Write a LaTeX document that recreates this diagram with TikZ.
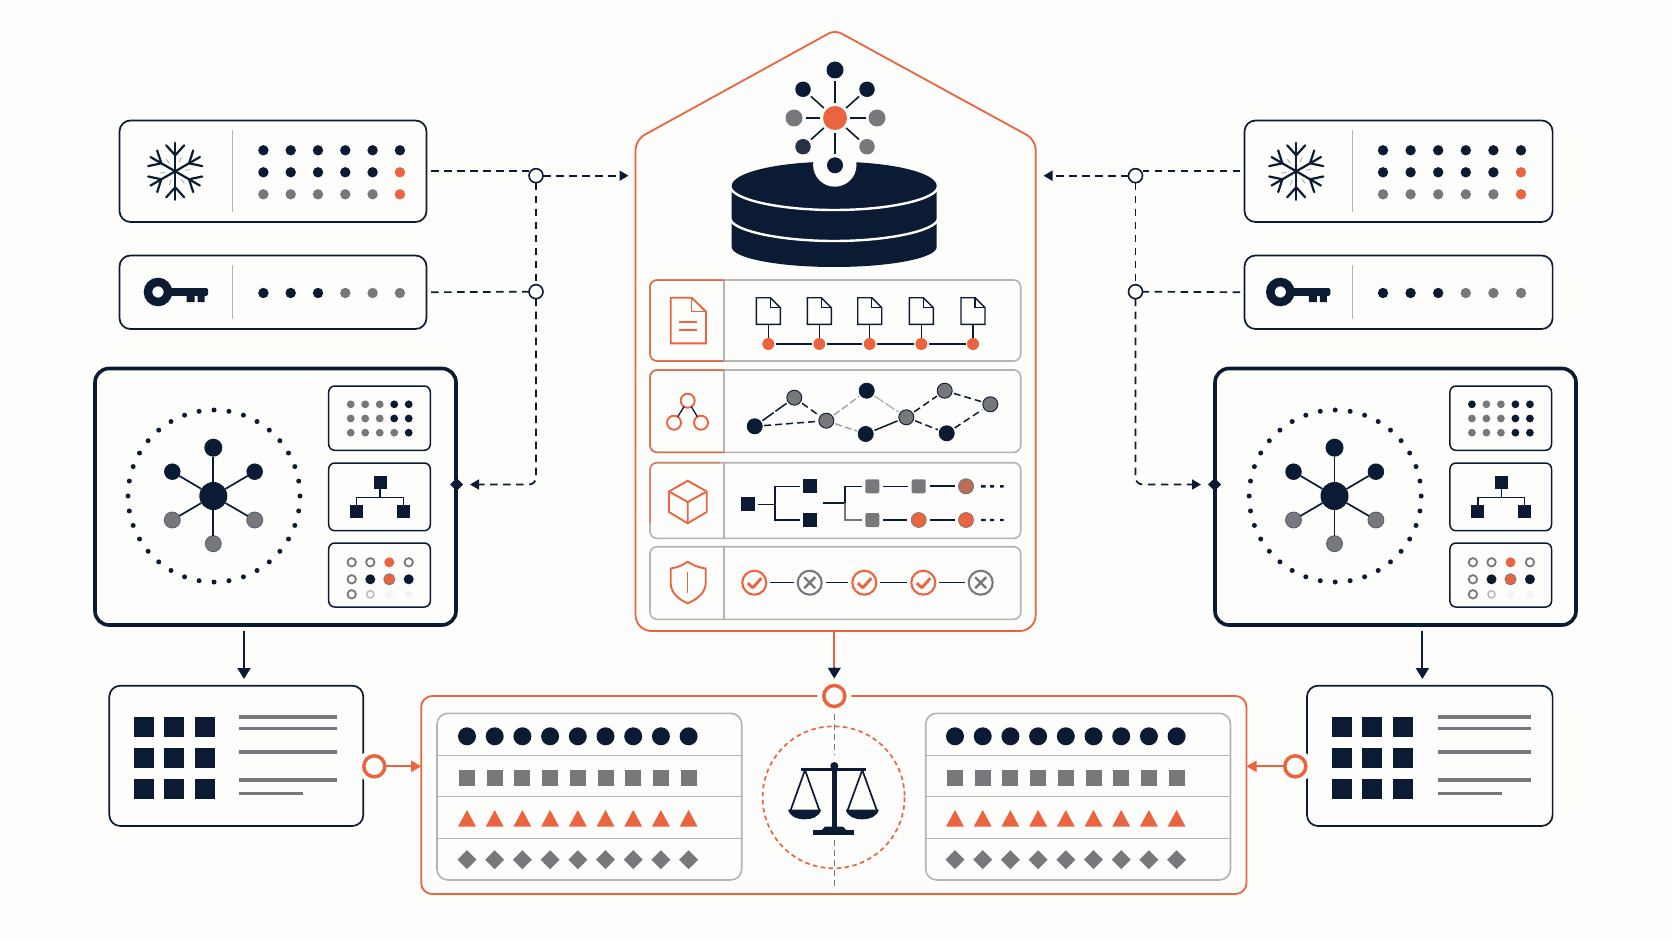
\documentclass[tikz,border=0pt]{standalone}
\usetikzlibrary{arrows.meta,calc,shapes.geometric}
\definecolor{ink}{HTML}{0B1B33}
\definecolor{slate}{HTML}{76787C}
\definecolor{coral}{HTML}{EA653F}
\definecolor{rule}{HTML}{B4B4B2}
\definecolor{paper}{HTML}{FDFDFB}
\tikzset{
  cardbox/.style={draw=ink,line width=1.7,fill=paper,rounded corners=11,inner sep=0,outer sep=0},
  heavybox/.style={draw=ink,line width=3.6,fill=paper,rounded corners=14,inner sep=0,outer sep=0},
  minibox/.style={draw=ink,line width=1.5,fill=paper,rounded corners=6,inner sep=0,outer sep=0},
  rowbox/.style={draw=rule,line width=1.6,fill=paper,rounded corners=7,inner sep=0,outer sep=0},
  gridbox/.style={draw=rule,line width=1.6,fill=paper,rounded corners=11,inner sep=0,outer sep=0},
  redbox/.style={draw=coral,line width=1.8,fill=paper,rounded corners=11,inner sep=0,outer sep=0},
  disc/.style={circle,inner sep=0,outer sep=0,minimum size=#1},
  block/.style={rectangle,inner sep=0,outer sep=0,minimum size=#1},
  hollow/.style={circle,draw=ink,line width=1.6,fill=paper,inner sep=0,outer sep=0,minimum size=14},
  redring/.style={circle,draw=coral,line width=3.5,fill=paper,inner sep=0,outer sep=0,minimum size=21},
  knot/.style={diamond,fill=ink,inner sep=0,outer sep=0,minimum size=13},
  wire/.style={draw=ink,line width=1.7,dash pattern=on 7.5pt off 5.5pt},
  inkhead/.style={-{Triangle[length=9pt,width=10pt]}},
  grule/.style={draw=rule,line width=1.5},
  gsolid/.style={draw=ink,line width=1.5},
  gdash/.style={draw=ink,line width=1.5,dash pattern=on 7pt off 4pt},
  gfaint/.style={draw=slate!70,line width=1.4,dash pattern=on 7pt off 3pt},
  icon/.style={draw=coral,line width=1.9,line join=miter},
}
% rectangle node given by two corners: style, name, x1, y1, x2, y2
\newcommand\cornernode[6]{%
  \pgfmathsetmacro\ccx{(#3+#5)/2}\pgfmathsetmacro\ccy{(#4+#6)/2}%
  \node[#1,minimum width={#5-#3},minimum height={#6-#4}] (#2) at (\ccx,\ccy) {};}
% six-armed crystal
\newcommand\crystal[2]{%
  \begin{scope}[shift={(#1,#2)}]
    \foreach \a in {30,90,150,210,270,330}{
      \begin{scope}[rotate=\a]
        \draw[ink,line width=2.2,line cap=round] (0,0) -- (28.5,0);
        \draw[ink,line width=2.2,line cap=round] (26,-9) -- (16,0) -- (26,9);
        \draw[slate!60,line width=.9] (9,4) -- (14,6);
      \end{scope}}
  \end{scope}}
% key with ring at its left end
\newcommand\keyglyph[2]{%
  \begin{scope}[shift={(#1,#2)}]
    \draw[ink,line width=8.5] (0,0) circle[radius=10];
    \fill[ink,rounded corners=1.5] (10,-4) rectangle (50,3.8);
    \fill[ink] (28.5,2) rectangle (36.5,10) (39.6,2) rectangle (46.5,10);
  \end{scope}}
% dots of a status card: x of first dot, spacing, y, radius, colours
\newcommand\dotrow[5]{%
  \foreach \c [count=\i from 0] in {#5}{
    \fill[\c] ({#1+#2*\i},#3) circle[radius=#4];}}
% hub module: prefix, frame offset, content offset, colours of the dot grid
\newcommand\hubmodule[4]{%
  \begin{scope}[shift={(#2,0)}]
    \cornernode{heavybox}{#1big}{95}{368.5}{456}{625}
  \end{scope}
  \begin{scope}[shift={(#3,0)}]
    \foreach \k in {0,...,35}{
      \fill[ink] ({214+86*cos(\k*10)},{496+86*sin(\k*10)}) circle[radius=2.5];}
    \node[disc=28,fill=ink] (#1hc) at (213.3,496) {};
    \node[disc=18,fill=ink] (#1h1) at (213.3,447.7) {};
    \node[disc=16.5,fill=ink] (#1h2) at (172.3,471.7) {};
    \node[disc=16.5,fill=ink] (#1h3) at (254.7,471.7) {};
    \node[disc=16,fill=slate,draw=ink!70,line width=.8] (#1h4) at (172.3,520) {};
    \node[disc=16,fill=slate,draw=ink!70,line width=.8] (#1h5) at (254.7,520) {};
    \node[disc=16,fill=slate,draw=ink!70,line width=.8] (#1h6) at (213.3,543.7) {};
    \foreach \i in {1,...,6}{\draw[ink,line width=1.7] (#1hc) -- (#1h\i);}
    \cornernode{minibox}{#1m1}{328.7}{386}{430.3}{450.3}
    \cornernode{minibox}{#1m2}{328.7}{463}{430.3}{530.7}
    \cornernode{minibox}{#1m3}{328.7}{543}{430.3}{607}
    \foreach \c [count=\i from 0] in {#4}{
      \pgfmathtruncatemacro\cl{mod(\i,5)}\pgfmathtruncatemacro\rw{\i/5}
      \fill[\c] ({350.7+14.5*\cl},{404.3+14.2*\rw}) circle[radius=3.9];}
    \node[block=13,fill=ink] (#1t0) at (380,482.3) {};
    \node[block=13,fill=ink] (#1t1) at (356.7,511.7) {};
    \node[block=13,fill=ink] (#1t2) at (403.3,511.7) {};
    \draw[ink,line width=1.3] (#1t0.south) -- (380,497.7);
    \draw[ink,line width=1.3] (#1t1.north) |- (#1t2.north |- 0,497.7) -- (#1t2.north);
    \foreach \px/\py in {351.7/562.3,370.3/562.3,408.7/562.3,351.7/579.3,351.7/594.3}{
      \draw[slate,line width=1.8,fill=paper] (\px,\py) circle[radius=4.2];}
    \draw[slate!50,line width=1.5,fill=paper] (370.3,594.3) circle[radius=3.6];
    \fill[coral] (389.3,562.3) circle[radius=5];
    \draw[slate,line width=.8,fill=coral] (389.3,579.3) circle[radius=5.6];
    \fill[ink] (370.3,579.3) circle[radius=5] (408.7,579.3) circle[radius=5];
    \fill[slate!8] (389.3,594.3) circle[radius=4] (408.7,594.3) circle[radius=4];
  \end{scope}}
% four rows of marks in a comparison grid: x of first mark
\newcommand\markrows[1]{%
  \foreach \i in {0,...,8}{
    \pgfmathsetmacro\mx{#1+27.7*\i}
    \fill[ink] (\mx,736.3) circle[radius=9];
    \fill[slate] ({\mx-8},770) rectangle ({\mx+8},786);
    \fill[coral] ({\mx-9},826.7) -- (\mx,810) -- ({\mx+9},826.7) -- cycle;
    \fill[slate] ({\mx-9.5},859.7) -- (\mx,850.2) -- ({\mx+9.5},859.7) -- (\mx,869.2) -- cycle;}}
% round badge with a tick or a cross
\newcommand\tickbadge[2]{%
  \node[disc=24,draw=coral,line width=2.1,fill=paper] (#1) at (#2,582.7) {};
  \draw[coral,line width=2.9,line join=round] ($(#1)+(-6.5,0.5)$) -- ($(#1)+(-1.5,5)$) -- ($(#1)+(7,-4.5)$);}
\newcommand\crossbadge[2]{%
  \node[disc=24,draw=slate,line width=2.1,fill=paper] (#1) at (#2,582.7) {};
  \draw[slate,line width=2.4] ($(#1)+(-5.5,-5.5)$) -- ($(#1)+(5.5,5.5)$) ($(#1)+(-5.5,5.5)$) -- ($(#1)+(5.5,-5.5)$);}
\begin{document}
\begin{tikzpicture}[x=1pt,y=-1pt]
\useasboundingbox (0,0) rectangle (1672,941);
\fill[paper] (0,0) rectangle (1672,941);

% ---- status cards, left
\cornernode{cardbox}{cardLa}{119.5}{120.5}{426.5}{222}
\cornernode{cardbox}{cardLb}{119.5}{255.5}{426.5}{329}
\draw[grule] (232.4,130) -- (232.4,212) (232.4,265) -- (232.4,319);
\crystal{175.2}{171.3}
\keyglyph{158}{292}
\dotrow{263.4}{27.3}{150.3}{5.2}{ink,ink,ink,ink,ink,ink}
\dotrow{263.4}{27.3}{172.3}{5.2}{ink,ink,ink,ink,ink,coral}
\dotrow{263.4}{27.3}{194.3}{5.2}{slate,slate,slate,slate,slate,coral}
\dotrow{263.4}{27.3}{293}{5.2}{ink,ink,ink,slate,slate,slate}

% ---- status cards, right
\cornernode{cardbox}{cardRa}{1244.5}{120.5}{1552.6}{222}
\cornernode{cardbox}{cardRb}{1244.5}{255.5}{1552.6}{329}
\draw[grule] (1352.5,130) -- (1352.5,212) (1352.5,265) -- (1352.5,319);
\crystal{1296.2}{171.3}
\keyglyph{1280.3}{292}
\dotrow{1383}{27.6}{150.3}{5.2}{ink,ink,ink,ink,ink,ink}
\dotrow{1383}{27.6}{172.3}{5.2}{ink,ink,ink,ink,ink,coral}
\dotrow{1383}{27.6}{194.3}{5.2}{slate,slate,slate,slate,slate,coral}
\dotrow{1383}{27.6}{293}{5.2}{ink,ink,ink,slate,slate,slate}

% ---- hub modules
\hubmodule{L}{0}{0}{slate,slate,slate,ink,ink,slate,slate,slate,ink,ink,slate,slate,slate,slate,ink}
\hubmodule{R}{1120}{1121.2}{ink,slate,slate,ink,ink,slate,slate,slate,ink,ink,slate,slate,slate,ink,ink}

% ---- junctions and dashed feeds
\node[hollow] (jLa) at (536,175.7) {};
\node[hollow] (jLb) at (536,291.7) {};
\node[hollow] (jRa) at (1135.5,175.7) {};
\node[hollow] (jRb) at (1135.5,291.7) {};
\node[knot] (kL) at (456.5,484.5) {};
\node[knot] (kR) at (1214.5,484.5) {};
\coordinate (feedL) at (628.5,175.7);
\coordinate (feedR) at (1043.5,175.7);
\draw[wire,shorten <=4.5] (cardLa.east) -- (cardLa.east -| jLa.west);
\draw[wire,shorten <=4.5] (cardLb.east) -- (jLb.west);
\draw[wire,inkhead] (jLa.east) -- (feedL);
\draw[wire] (jLa.south) -- (jLb.north);
\draw[wire,inkhead,rounded corners=7,shorten >=7] (jLb.south) -- (jLb.south |- kL) -- (kL.east);
\draw[wire,shorten <=4.5] (cardRa.west) -- (cardRa.west -| jRa.east);
\draw[wire,shorten <=4.5] (cardRb.west) -- (jRb.east);
\draw[wire,inkhead] (jRa.west) -- (feedR);
\draw[wire] (jRa.south) -- (jRb.north);
\draw[wire,inkhead,rounded corners=7,shorten >=7] (jRb.south) -- (jRb.south |- kR) -- (kR.west);

% ---- central house outline
\draw[coral,line width=1.8,fill=paper,rounded corners=10]
  (1035.7,400) -- (1035.7,139.8) [rounded corners=7] -- (835,30) [rounded corners=10] -- (635.5,139.8)
  [rounded corners=16] -- (635.5,631) -- (1035.7,631) -- cycle;

% ---- stacked storage disk
\fill[ink] (731.7,186) .. controls (731.7,172.6) and (777.6,161.7) .. (834.2,161.7)
  .. controls (890.8,161.7) and (936.7,172.6) .. (936.7,186) -- (936.7,247)
  .. controls (936.7,258) and (890.8,267) .. (834.2,267)
  .. controls (777.6,267) and (731.7,258) .. (731.7,247) -- cycle;
\draw[paper,line width=2.4] (730.5,187) .. controls (731.7,199) and (777.6,210) .. (834.2,210)
  .. controls (890.8,210) and (936.7,199) .. (937.9,187);
\draw[paper,line width=2.4] (730.5,219) .. controls (731.7,230) and (777.6,241) .. (834.2,241)
  .. controls (890.8,241) and (936.7,230) .. (937.9,219);
\fill[paper] (834.8,165) circle[radius=21.7];

% ---- molecule above the disk
\node[disc=24,fill=coral] (mc) at (835,118) {};
\node[disc=17,fill=ink] (m1) at (835,70) {};
\node[disc=15.5,fill=ink] (m2) at (867,89.3) {};
\node[disc=17,fill=slate] (m3) at (877,118) {};
\node[disc=15.5,fill=slate] (m4) at (867,146.7) {};
\node[disc=16,fill=ink] (m5) at (835,165.3) {};
\node[disc=15.5,fill=ink!75!slate] (m6) at (803,146.7) {};
\node[disc=17,fill=slate] (m7) at (794,118) {};
\node[disc=15.5,fill=ink] (m8) at (803,89.3) {};
\foreach \i in {1,...,8}{\draw[ink,line width=1.6,shorten <=3,shorten >=3] (mc) -- (m\i);}

% ---- four row panels
\cornernode{rowbox}{pa}{650}{280}{1020.7}{361}
\cornernode{rowbox}{pb}{650}{370}{1020.7}{452.3}
\cornernode{rowbox}{pc}{650}{462.7}{1020.7}{538.3}
\cornernode{rowbox}{pd}{650}{546.7}{1020.7}{619.3}
\draw[grule] (724,280) -- (724,361) (724,370) -- (724,452.3) (724,462.7) -- (724,538.3) (724,546.7) -- (724,619.3);
\draw[coral,line width=1.5,rounded corners=7] (724,280) -- (650,280) -- (650,361) -- (724,361);
\draw[coral,line width=1.5,rounded corners=7] (724,370) -- (650,370) -- (650,452.3) -- (724,452.3);
\draw[coral!70!rule,line width=1.5,rounded corners=7] (720,462.7) -- (650,462.7) -- (650,523);

% document icon
\draw[icon] (691.7,297.7) -- (670.7,297.7) -- (670.7,343.3) -- (706,343.3) -- (706,311.7) -- cycle;
\draw[icon,line width=1.5] (691.7,297.7) -- (691.7,311.7) -- (706,311.7);
\draw[icon] (679.3,321.7) -- (696.7,321.7) (679.3,330) -- (696.7,330);
% row of documents on a chain
\foreach \i/\x in {1/756.3,2/807.3,3/857.7,4/909.3,5/961}{
  \draw[ink,line width=1.4,line join=miter] (\x+14,297.7) -- (\x,297.7) -- (\x,324.3) -- (\x+24,324.3) -- (\x+24,307.7) -- cycle;
  \draw[ink,line width=1.2] (\x+14,297.7) -- (\x+14,307.7) -- (\x+24,307.7);
  \node[disc=12,fill=coral] (d\i) at (\x+12,344) {};
  \draw[ink,line width=1.4] (\x+12,324.3) -- (d\i.north);}
\foreach \a/\b in {1/2,2/3,3/4,4/5}{\draw[ink,line width=1.4,shorten <=1.5,shorten >=1.5] (d\a) -- (d\b);}

% tree icon
\node[disc=14,draw=coral,line width=1.9,fill=paper] (ia) at (687.7,400.7) {};
\node[disc=14,draw=coral,line width=1.9,fill=paper] (ib) at (674,422.7) {};
\node[disc=14,draw=coral,line width=1.9,fill=paper] (ic) at (701,422.7) {};
\draw[ink,line width=1.3] (ia) -- (ib) (ia) -- (ic);
% network
\foreach \n/\x/\y/\k in {A/754.7/426.3/ink,B/794.3/397.7/slate,C/826.3/420.7/slate,D/866.7/390.7/ink,E/865.7/434/ink,F/906.3/417.3/slate,G/944.7/390.7/slate,H/946.7/433.3/ink,I/990.3/404.3/slate}{
  \node[disc=15,fill=\k,draw=ink,line width=.9] (g\n) at (\x,\y) {};}
\draw[gdash,dash pattern=on 14pt off 2pt,shorten <=2,shorten >=2] (gA) -- (gB);
\draw[gdash,shorten <=2,shorten >=2] (gA) -- (gC);
\draw[gdash,shorten <=2,shorten >=2] (gB) -- (gC);
\draw[gfaint,shorten <=2,shorten >=2] (gC) -- (gD);
\draw[gfaint,shorten <=2,shorten >=2] (gC) -- (gE);
\draw[gfaint,draw=slate!55,dash pattern=on 11pt off 2pt,shorten <=2,shorten >=2] (gD) -- (gF);
\draw[gsolid,shorten <=2,shorten >=2] (gE) -- (gF);
\draw[gdash,shorten <=2,shorten >=2] (gF) -- (gG);
\draw[gdash,shorten <=2,shorten >=2] (gF) -- (gH);
\draw[gdash,shorten <=2,shorten >=2] (gG) -- (gI);
\draw[gdash,shorten <=2,shorten >=2] (gH) -- (gI);

% cube icon
\draw[icon,line join=round] (687.7,480.7) -- (706.7,491.5) -- (706.7,512) -- (687.7,523.3) -- (669,512) -- (669,491.5) -- cycle;
\draw[icon,line join=round] (669,491.5) -- (687.7,502) -- (706.7,491.5) (687.7,502) -- (687.7,523.3);
% branching pipeline
\node[block=14,fill=ink] (s0) at (747.7,504.3) {};
\node[block=14,fill=ink] (s1) at (810.3,486.3) {};
\node[block=14,fill=ink] (s2) at (810.3,520) {};
\draw[ink,line width=1.5,shorten <=3,rounded corners=1] (s0.east) -- (775,504.3);
\draw[ink,line width=1.5,shorten <=3,shorten >=3] (s1.west) -| (775,520) -- (s2.west);
\node[block=14,fill=slate,rounded corners=2] (u1) at (872.3,486.3) {};
\node[block=14,fill=slate,rounded corners=2] (u2) at (918.7,486.3) {};
\node[disc=15,fill=coral!60!slate,draw=slate,line width=.9] (u3) at (966,486.3) {};
\node[block=14,fill=slate,rounded corners=2] (v1) at (872.3,520) {};
\node[disc=15,fill=coral,draw=slate,line width=.7] (v2) at (918.7,520) {};
\node[disc=15,fill=coral,draw=slate,line width=.7] (v3) at (966,520) {};
\coordinate (split) at (823,503);
\draw[ink,line width=1.4] (split) -- (845,503);
\draw[ink,line width=1.4,shorten >=3] (845,503) |- (u1.west);
\draw[slate,line width=1.4,shorten >=3] (845,503) |- (v1.west);
\foreach \a/\b in {u1/u2,v1/v2,v2/v3}{\draw[ink,line width=1.4,shorten <=4,shorten >=4] (\a) -- (\b);}
\draw[ink,line width=1.8,shorten <=4,shorten >=4] (u2) -- (u3);
\foreach \y in {486.3,520}{
  \fill[ink] (981,\y-1.2) rectangle (985.5,\y+1.2) (990,\y-1.2) rectangle (994,\y+1.2) (1000,\y-1.2) rectangle (1003.5,\y+1.2);}

% shield icon
\draw[icon,line join=round] (687.7,561.7) .. controls (693,565.5) and (699,567.5) .. (705.7,568.5)
  -- (705.7,583) .. controls (705.7,592) and (698,599) .. (687.7,603.3)
  .. controls (677.5,599) and (670.7,592) .. (670.7,583) -- (670.7,568.5)
  .. controls (677,567.5) and (682.5,565.5) .. cycle;
\draw[coral,line width=1.4] (687.7,571.7) -- (687.7,592.7);
% verdict chain
\tickbadge{b1}{754.3}
\crossbadge{b2}{809.7}
\tickbadge{b3}{864.3}
\tickbadge{b4}{923.3}
\crossbadge{b5}{980.7}
\foreach \a/\b in {b1/b2,b2/b3,b3/b4,b4/b5}{\draw[ink,line width=1.5,shorten <=4,shorten >=4] (\a) -- (\b);}

% ---- result cards at the bottom
\cornernode{cardbox}{outL}{109.3}{685.7}{363.3}{826}
\cornernode{cardbox}{outR}{1307}{685.7}{1552.6}{826}
\foreach \gx/\sx/\ex/\tx in {0/239.3/336.7/303.3,1/1438/1531.3/1502}{
  \foreach \ly/\lw/\lk in {717/3.6/slate,728.7/3/slate,751.7/4/slate,780.3/4/slate}{
    \draw[\lk,line width=\lw] (\sx,\ly) -- (\ex,\ly);}
  \draw[slate,line width=3] (\sx,793.7) -- (\tx,793.7);}
\foreach \y in {726.7,757.7,789.3}{
  \foreach \x in {143.7,174.3,205,1341.7,1372.3,1403}{
    \fill[ink] (\x-10,\y-10) rectangle (\x+10,\y+10);}}

% ---- comparison panel
\cornernode{redbox}{cmp}{421.2}{696}{1246.5}{894}
\cornernode{gridbox}{gridL}{437}{713.3}{741.7}{880}
\cornernode{gridbox}{gridR}{925.7}{713.3}{1230.5}{880}
\draw[grule] (437,755.7) -- (741.7,755.7) (437,796.7) -- (741.7,796.7) (437,838.3) -- (741.7,838.3)
  (925.7,755.7) -- (1230.5,755.7) (925.7,796.7) -- (1230.5,796.7) (925.7,838.3) -- (1230.5,838.3);
\markrows{467}
\markrows{955}

% balance in its dashed circle
\draw[slate,line width=1.4,dash pattern=on 6pt off 4pt] (834.3,714) -- (834.3,755);
\draw[slate,line width=1.4,dash pattern=on 6pt off 4pt] (834.3,840) -- (834.3,890);
\draw[coral,line width=1.7,dash pattern=on 4.5pt off 3.5pt] (833.6,797.3) circle[radius=71];
\fill[ink] (831.6,766) rectangle (837,832);
\fill[ink] (834.3,766) circle[radius=4];
\draw[ink,line width=2.6] (801,769.3) -- (866,769.3);
\draw[ink,line width=1.7] (790.7,810) -- (805,770) -- (819.3,810);
\draw[ink,line width=1.7] (847.7,810) -- (862.3,770) -- (876.7,810);
\fill[ink] (788,809.5) -- (821.3,809.5) .. controls (819,817) and (812,819.3) .. (804.6,819.3)
  .. controls (797,819.3) and (790,817) .. cycle;
\fill[ink] (845.7,809.5) -- (879,809.5) .. controls (876.7,817) and (869.7,819.3) .. (862.3,819.3)
  .. controls (854.7,819.3) and (847.7,817) .. cycle;
\fill[ink] (812.7,829.5) rectangle (854.3,834.5);
\fill[ink] (822,830) -- (825,826.5) -- (843,826.5) -- (846,830) -- cycle;

% ---- rings and solid connectors
\fill[paper] (834.3,696) circle[radius=17];
\node[redring] (ringT) at (834.3,696) {};
\fill[paper] (374.3,766.3) circle[radius=17];
\node[redring] (ringL) at (374.3,766.3) {};
\fill[paper] (1295.3,766.3) circle[radius=17];
\node[redring] (ringR) at (1295.3,766.3) {};
\coordinate (cmpL) at (cmp.west |- ringL);
\coordinate (cmpR) at (cmp.east |- ringR);
\draw[coral,line width=1.8,-{Triangle[length=10pt,width=11pt]}] (ringL.east) -- (cmpL);
\draw[coral,line width=1.8,-{Triangle[length=10pt,width=11pt]}] (ringR.west) -- (cmpR);
\coordinate (houseFoot) at (834.3,631);
\coordinate (tipT) at (834.3,678.3);
\draw[coral,line width=1.8] (houseFoot) -- (834.3,668);
\draw[ink,line width=.1,-{Triangle[length=10.5pt,width=13pt]}] (834.3,667) -- (tipT);
\coordinate (dropLs) at (244,630.7);
\coordinate (dropRs) at (1422.4,630.7);
\draw[ink,line width=1.9,-{Triangle[length=11pt,width=13pt]}] (dropLs) -- (dropLs |- 0,679);
\draw[ink,line width=1.9,-{Triangle[length=11pt,width=13pt]}] (dropRs) -- (dropRs |- 0,679);
\end{tikzpicture}
\end{document}
